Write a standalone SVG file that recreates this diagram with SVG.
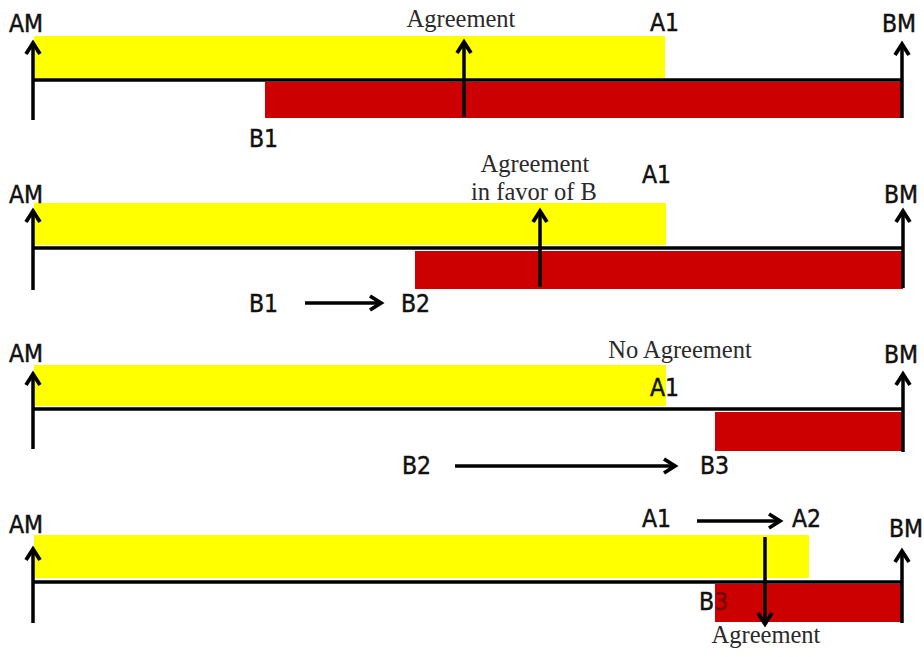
<svg xmlns="http://www.w3.org/2000/svg" width="924" height="657" viewBox="0 0 924 657">
<style>
.y{fill:#FFFF00}
.r{fill:#CC0000}
.base{stroke:#000;stroke-width:3.5}
.arr{stroke:#000;stroke-width:3.5;fill:none;marker-end:url(#ah)}
.lbl{font-family:"DejaVu Sans Condensed","DejaVu Sans","Liberation Sans",sans-serif;font-stretch:condensed;font-size:24.5px;fill:#111;stroke:#111;stroke-width:0.45}
.ser{font-family:"Liberation Serif","Times New Roman",serif;font-size:24.5px;fill:#2a2a2a;text-anchor:middle}
</style>
<defs>
<marker id="ah" viewBox="0 0 22 20" markerWidth="22" markerHeight="20" refX="15" refY="10" orient="auto" markerUnits="userSpaceOnUse" overflow="visible">
<path d="M4,3 L15,10 L4,17" fill="none" stroke="#000" stroke-width="3.8" stroke-linejoin="miter"/>
</marker>
</defs>
<rect width="924" height="657" fill="#fff"/>

<g id="panel1">
<rect class="y" x="34" y="36" width="631" height="42"/>
<rect class="r" x="265" y="82" width="637" height="36"/>
<line class="base" x1="33" y1="80" x2="903" y2="80"/>
<text class="lbl" x="9" y="32">AM</text>
<text class="lbl" x="882" y="32">BM</text>
<text class="lbl" x="650" y="31">A1</text>
<text class="lbl" x="249" y="147">B1</text>
<text class="ser" x="461" y="27">Agreement</text>
</g>

<g id="panel2">
<rect class="y" x="34" y="203" width="632" height="42"/>
<rect class="r" x="415" y="251" width="488" height="38"/>
<line class="base" x1="33" y1="248" x2="904" y2="248"/>
<text class="lbl" x="9" y="203">AM</text>
<text class="lbl" x="884" y="203">BM</text>
<text class="lbl" x="642" y="183">A1</text>
<text class="lbl" x="249" y="312">B1</text>
<text class="lbl" x="401" y="312">B2</text>
<text class="ser" x="535" y="172">Agreement</text>
<text class="ser" x="534" y="200">in favor of B</text>
</g>

<g id="panel3">
<rect class="y" x="34" y="365" width="632" height="41"/>
<rect class="r" x="715" y="412" width="188" height="39"/>
<line class="base" x1="33" y1="409" x2="904" y2="409"/>
<text class="lbl" x="9" y="362">AM</text>
<text class="lbl" x="884" y="363">BM</text>
<text class="lbl" x="650" y="396">A1</text>
<text class="lbl" x="402" y="474">B2</text>
<text class="lbl" x="700" y="474">B3</text>
<text class="ser" x="680" y="358">No Agreement</text>
</g>

<g id="panel4">
<rect class="y" x="34" y="535" width="775" height="43"/>
<rect class="r" x="715" y="584" width="187" height="38"/>
<text class="lbl" x="699" y="610">B<tspan fill="#7a0000" stroke="#7a0000">3</tspan></text>
<line class="base" x1="33" y1="582" x2="903" y2="582"/>
<text class="lbl" x="9" y="533">AM</text>
<text class="lbl" x="889" y="537">BM</text>
<text class="lbl" x="642" y="527">A1</text>
<text class="lbl" x="792" y="527">A2</text>
<text class="ser" x="766" y="643">Agreement</text>
</g>

<g id="connectors">
<line class="arr" x1="33" y1="120" x2="33" y2="43"/>
<line class="arr" x1="902" y1="118" x2="902" y2="44"/>
<line class="arr" x1="464" y1="117" x2="464" y2="42"/>

<line class="arr" x1="33" y1="290" x2="33" y2="211"/>
<line class="arr" x1="903" y1="288" x2="903" y2="211"/>
<line class="arr" x1="540" y1="287" x2="540" y2="211"/>
<line class="arr" x1="305" y1="303" x2="381" y2="303"/>

<line class="arr" x1="33" y1="449" x2="33" y2="374"/>
<line class="arr" x1="903" y1="452" x2="903" y2="374"/>
<line class="arr" x1="455" y1="466" x2="675" y2="466"/>

<line class="arr" x1="33" y1="623" x2="33" y2="549"/>
<line class="arr" x1="902" y1="623" x2="902" y2="551"/>
<line class="arr" x1="697" y1="521" x2="780" y2="521"/>
<line class="arr" x1="765" y1="537" x2="765" y2="624"/>
</g>
</svg>
